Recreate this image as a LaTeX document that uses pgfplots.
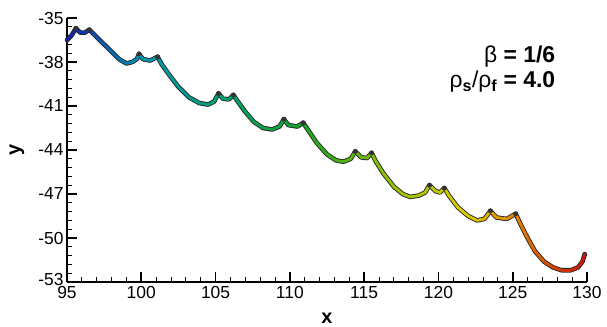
\documentclass[border=0pt]{standalone}
\usepackage{fontspec}
\setmainfont{Liberation Sans}
\usepackage{pgfplots}
\usepackage{pgfplotstable}
\pgfplotsset{compat=1.18}
\pgfplotstableread{
x y
95.0 -36.5
95.3 -36.2
95.6 -35.7
95.9 -36.0
96.2 -36.0
96.5 -35.8
96.8 -36.1
97.3 -36.6
97.9 -37.2
98.5 -37.8
99.0 -38.1
99.4 -38.0
99.7 -37.8
99.85 -37.45
100.1 -37.8
100.6 -37.9
101.1 -37.65
101.4 -38.2
101.9 -38.9
102.5 -39.7
103.2 -40.4
103.9 -40.8
104.5 -40.9
104.9 -40.7
105.2 -40.15
105.5 -40.5
105.9 -40.55
106.2 -40.25
106.5 -40.7
107.0 -41.4
107.6 -42.1
108.2 -42.5
108.8 -42.6
109.3 -42.4
109.6 -41.9
109.9 -42.3
110.5 -42.4
110.9 -42.15
111.2 -42.6
111.8 -43.5
112.5 -44.3
113.1 -44.7
113.6 -44.8
114.1 -44.6
114.4 -44.1
114.8 -44.5
115.2 -44.55
115.5 -44.2
115.8 -44.8
116.3 -45.6
117.0 -46.5
117.6 -47.0
118.1 -47.2
118.7 -47.1
119.1 -46.9
119.4 -46.4
119.8 -46.8
120.1 -46.9
120.4 -46.6
120.7 -47.1
121.3 -47.9
122.0 -48.5
122.6 -48.8
123.1 -48.7
123.5 -48.15
123.9 -48.6
124.6 -48.7
125.2 -48.35
125.5 -49.0
126.0 -50.0
126.5 -50.9
127.1 -51.6
127.7 -52.0
128.3 -52.2
128.9 -52.2
129.4 -52.0
129.7 -51.6
129.85 -51.1
}\traj
\pgfplotstableread{
x y
95.6 -35.7
96.5 -35.8
99.85 -37.45
101.1 -37.65
105.2 -40.15
106.2 -40.25
109.6 -41.9
110.9 -42.15
114.4 -44.1
115.5 -44.2
119.4 -46.4
120.4 -46.6
123.5 -48.15
125.2 -48.35
}\ears
\begin{document}
\begin{tikzpicture}
\begin{axis}[
  name=ax,
  at={(0,0)}, anchor=south west,
  scale only axis, width=520bp, height=264bp,
  xmin=95, xmax=130, ymin=-53, ymax=-35,
  axis x line*=bottom, axis y line*=left,
  axis line style={line width=1.6bp},
  xtick={95,100,...,130}, ytick={-53,-50,...,-35},
  minor x tick num=4, minor y tick num=4,
  tick align=inside,
  major tick length=10bp, minor tick length=5bp,
  major tick style={line width=1.6bp, black},
  minor tick style={line width=0.8bp, black},
  /pgf/number format/assume math mode=true,
  tick label style={font=\fontsize{17.5}{17.5}\selectfont},
  yticklabel={\ifdim\tick pt<-52pt\raisebox{5bp}{\pgfmathprintnumber{\tick}}\else\pgfmathprintnumber{\tick}\fi},
  xticklabel style={yshift=-1bp},
  clip=false,
  colormap={traj}{rgb255(0pt)=(20,30,170); rgb255(5pt)=(0,150,180); rgb255(11pt)=(0,160,110); rgb255(16pt)=(20,165,35); rgb255(22pt)=(150,195,0); rgb255(27pt)=(220,205,0); rgb255(31pt)=(225,115,0); rgb255(35pt)=(205,20,10)},
]
\addplot[black!85, line width=4.6bp, line join=round, line cap=round] table[x=x,y=y] {\traj};
\addplot[mesh, point meta=x, line width=2.8bp, line join=round, line cap=round] table[x=x,y=y] {\traj};
\addplot[only marks, mark=*, mark size=2.3bp, black!80] table[x=x,y=y] {\ears};
\node[anchor=east, align=right, font=\fontsize{23}{25}\selectfont] at (axis cs:128.1,-38.5)
  {β \textbf{= 1/6}\\ ρ\textsubscript{\textbf{s}}/ρ\textsubscript{\textbf{f}} \textbf{= 4.0}};
\node[font=\bfseries\fontsize{20}{20}\selectfont] at ([yshift=-36bp]axis description cs:0.5,0) {x};
\node[rotate=90, font=\bfseries\fontsize{20}{20}\selectfont] at ([xshift=-50bp]axis description cs:0,0.5) {y};
\end{axis}
\pgfresetboundingbox
\path (-67bp,-45bp) rectangle (540bp,282bp);
\end{tikzpicture}
\end{document}
